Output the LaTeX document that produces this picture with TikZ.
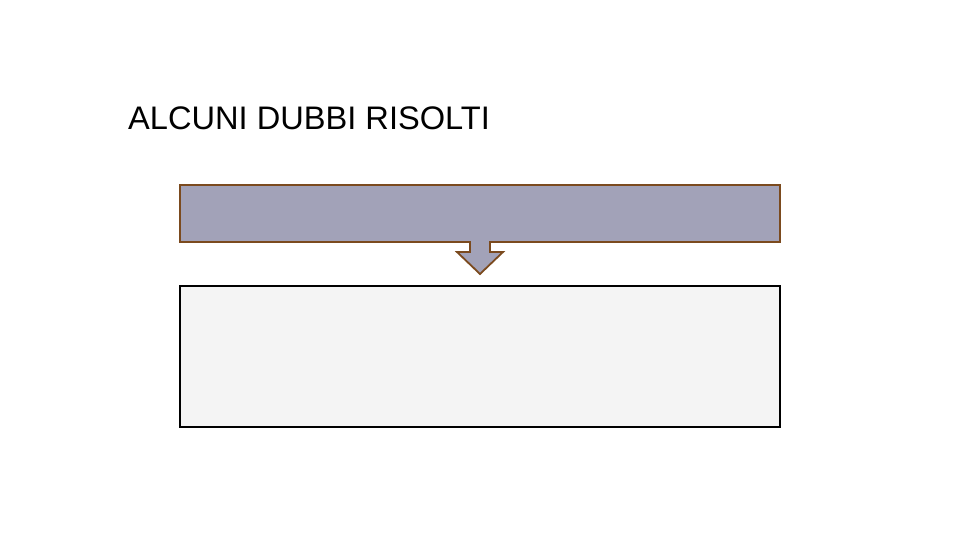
\documentclass[tikz,border=0pt]{standalone}
\usepackage{fontspec}
\setmainfont{Liberation Sans}
\definecolor{boxfill}{HTML}{A2A2B8}
\definecolor{boxline}{HTML}{7B4A1E}
\definecolor{lowfill}{HTML}{F4F4F4}
\begin{document}
\begin{tikzpicture}[x=1pt,y=-1pt,
  callout/.style={fill=boxfill,draw=boxline,line width=1.8pt},
  lowbox/.style={fill=lowfill,draw=black,line width=1.6pt}]
\useasboundingbox (0,0) rectangle (960,540);
\node[anchor=base west,inner sep=0pt,font=\fontsize{32.6pt}{36pt}\selectfont] (title) at (128,130) {ALCUNI DUBBI RISOLTI};
\draw[callout] (180,185) -- (780,185) -- (780,242) -- (490,242) -- (490,252) -- (503,252) -- (480,274) -- (457,252) -- (470,252) -- (470,242) -- (180,242) -- cycle;
\coordinate (top) at (480,213);
\node[lowbox,minimum width=600pt,minimum height=141pt,inner sep=0pt] (bottom) at (480,356.5) {};
\end{tikzpicture}
\end{document}
